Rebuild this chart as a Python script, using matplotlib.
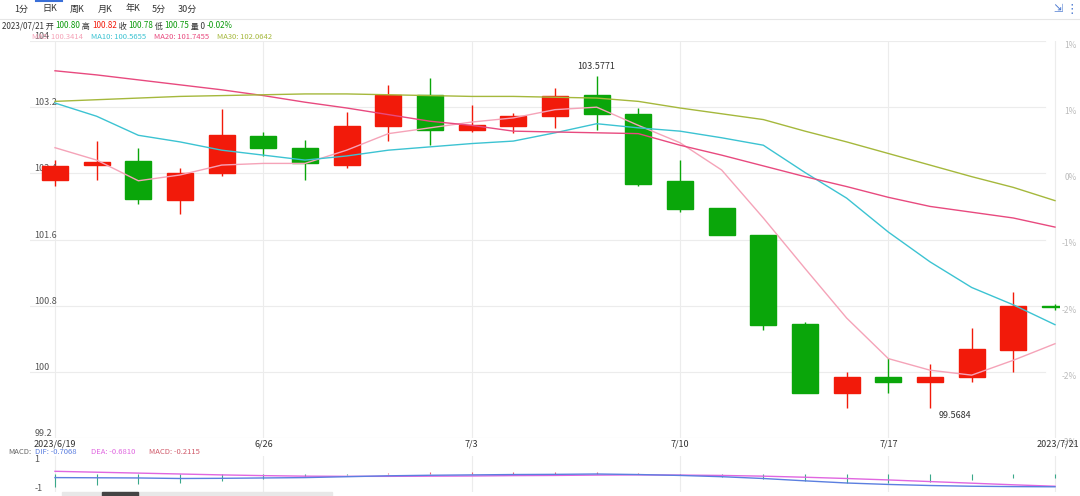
import numpy as np
import matplotlib
matplotlib.use("Agg")
import matplotlib.pyplot as plt
from matplotlib.patches import Rectangle

plt.rcParams['font.family'] = ['Noto Sans CJK SC', 'DejaVu Sans']

opens = [102.32, 102.50, 102.55, 102.08, 102.40, 102.85, 102.71, 102.50, 102.97, 103.35, 102.92, 102.97, 103.09,
         103.35, 103.12, 102.31, 101.98, 101.66, 100.58, 99.75, 99.94, 99.88, 99.94, 100.27, 100.80]
closes = [102.49, 102.54, 102.09, 102.40, 102.86, 102.71, 102.53, 102.97, 103.35, 102.92, 102.98, 103.09, 103.34,
          103.12, 102.27, 101.97, 101.66, 100.57, 99.75, 99.94, 99.88, 99.94, 100.28, 100.79, 100.78]
highs = [102.56, 102.79, 102.71, 102.47, 103.18, 102.90, 102.80, 103.14, 103.47, 103.55, 103.23, 103.13, 103.43,
         103.5771, 103.19, 102.56, 101.98, 101.66, 100.60, 100.00, 100.17, 100.10, 100.53, 100.97, 100.82]
lows = [102.25, 102.32, 102.03, 101.91, 102.37, 102.61, 102.32, 102.47, 102.79, 102.74, 102.90, 102.89, 102.95,
        102.92, 102.25, 101.93, 101.65, 100.51, 99.74, 99.56, 99.75, 99.5684, 99.88, 100.00, 100.75]
ma5 = [102.71, 102.56, 102.31, 102.38, 102.50, 102.52, 102.52, 102.68, 102.88, 102.95, 103.02, 103.07, 103.17,
       103.20, 102.98, 102.77, 102.44, 101.86, 101.25, 100.65, 100.16, 100.02, 99.96, 100.14, 100.34]
ma10 = [103.25, 103.09, 102.86, 102.78, 102.68, 102.62, 102.56, 102.61, 102.68, 102.72, 102.76, 102.79, 102.89,
        103.00, 102.95, 102.91, 102.83, 102.74, 102.41, 102.10, 101.69, 101.33, 101.02, 100.81, 100.57]
ma20 = [103.64, 103.59, 103.53, 103.47, 103.41, 103.34, 103.26, 103.19, 103.11, 103.03, 102.98, 102.91, 102.90,
        102.89, 102.88, 102.74, 102.62, 102.49, 102.36, 102.24, 102.11, 102.00, 101.93, 101.86, 101.75]
ma30 = [103.27, 103.29, 103.31, 103.33, 103.34, 103.35, 103.36, 103.36, 103.35, 103.34, 103.33, 103.33, 103.32,
        103.31, 103.27, 103.19, 103.12, 103.05, 102.91, 102.78, 102.64, 102.50, 102.36, 102.23, 102.07]
dif = [-0.20, -0.21, -0.22, -0.25, -0.24, -0.22, -0.20, -0.15, -0.10, -0.07, -0.05, -0.03, -0.02, 0.0, -0.03,
       -0.08, -0.15, -0.25, -0.38, -0.50, -0.58, -0.64, -0.68, -0.70, -0.71]
dea = [0.15, 0.10, 0.05, 0.0, -0.05, -0.09, -0.12, -0.13, -0.13, -0.12, -0.11, -0.09, -0.08, -0.06, -0.05,
       -0.06, -0.08, -0.12, -0.18, -0.25, -0.33, -0.42, -0.51, -0.60, -0.68]
macd = [-0.70, -0.62, -0.54, -0.50, -0.38, -0.26, -0.16, -0.04, 0.06, 0.10, 0.12, 0.12, 0.12, 0.12, 0.04,
        -0.04, -0.14, -0.26, -0.40, -0.50, -0.50, -0.44, -0.34, -0.20, -0.21]
date_ticks = {0: "2023/6/19", 5: "6/26", 10: "7/3", 15: "7/10", 20: "7/17", 24: "2023/7/21"}
price_ticks = [104, 103.2, 102.4, 101.6, 100.8, 100, 99.2]
pct_labels = ["1%", "1%", "0%", "-1%", "-2%", "-2%", "-3%"]

RED = "#f21a0a"
GREEN = "#0aa60a"
W, H = 1080, 496
fig = plt.figure(figsize=(W / 100, H / 100), dpi=100)

def px(l, t, r, b):
    return [l / W, 1 - b / H, (r - l) / W, (b - t) / H]

ax = fig.add_axes(px(30, 41, 1060, 438))
ax.set_xlim(-0.6, 24.12)
ax.set_ylim(99.2, 104)
for s in ax.spines.values():
    s.set_visible(False)
ax.set_xticks([])
ax.set_yticks([])
for v, p in zip(price_ticks, pct_labels):
    ax.axhline(v, xmin=-0.01, xmax=0.985, color="#ececec", lw=0.8, zorder=0)
    ax.text(-0.5, v, "%g" % v, fontsize=6.5, color="#555555", va="bottom", ha="left")
    fig.text(1077 / W, ax.transData.transform((0, v))[1] / H, p, fontsize=6, color="#bbbbbb",
             va="top", ha="right")
for i in date_ticks:
    ax.axvline(i, color="#ececec", lw=0.8, zorder=0)

x = np.arange(len(opens))
for i in x:
    o, c = opens[i], closes[i]
    col = RED if c >= o else GREEN
    ax.vlines(i, lows[i], highs[i], color=col, lw=1, zorder=2)
    ax.add_patch(Rectangle((i - 0.31, min(o, c)), 0.62, max(abs(c - o), 0.02),
                           color=col, zorder=3))
ax.plot(x, ma5, color="#f5a3b8", lw=1, zorder=4)
ax.plot(x, ma10, color="#3cc3d2", lw=1, zorder=4)
ax.plot(x, ma20, color="#e84a7f", lw=1, zorder=4)
ax.plot(x, ma30, color="#a5b83c", lw=1, zorder=4)
ax.text(13, 103.5771 + 0.06, "103.5771", fontsize=6.5, color="#333333", ha="center", va="bottom")
ax.text(21.2, 99.5684 - 0.04, "99.5684", fontsize=6.5, color="#333333", ha="left", va="top")

# date labels
for i, lab in date_ticks.items():
    ha = "right" if i == 24 else "center"
    xx = ax.transData.transform((i, 0))[0]
    if i == 24:
        xx = 1079
    fig.text(xx / W, 1 - 448 / H, lab, fontsize=6.5, color="#333333", ha=ha, va="bottom")

# MACD panel
ax2 = fig.add_axes(px(30, 456, 1060, 492))
ax2.set_xlim(-0.6, 24.12)
ax2.set_ylim(-1.0, 1.0)
for s in ax2.spines.values():
    s.set_visible(False)
ax2.set_xticks([])
ax2.set_yticks([])
for i in date_ticks:
    ax2.axvline(i, color="#ececec", lw=0.8, zorder=0)
for v in [1, -1]:
    ax2.text(-0.5, v * 0.8, str(v), fontsize=6.5, color="#555555", va="center", ha="left")
ax2.vlines(x, 0, macd, colors=["#e8627a" if m > 0 else "#3aa88a" for m in macd], lw=0.8)
ax2.plot(x, dea, color="#e066e0", lw=1)
ax2.plot(x, dif, color="#5b7fe0", lw=1)

# header
fig.add_artist(plt.Line2D([0, 1], [1 - 19 / H] * 2, color="#e6e6e6", lw=0.8))
for xx, t in zip([14, 42, 70, 98, 126, 152, 178], ["1分", "日K", "周K", "月K", "年K", "5分", "30分"]):
    fig.text(xx / W, 1 - 9 / H, t, fontsize=6.5, color="#333333", ha="left", va="center")
fig.add_artist(plt.Line2D([36 / W, 62 / W], [1 - 1 / H] * 2, color="#3a6fd8", lw=1.5))
hdr = [("2023/07/21 开 ", "#333333"), ("100.80", "#0a9a0a"), (" 高 ", "#333333"), ("100.82", RED),
       (" 收 ", "#333333"), ("100.78", "#0a9a0a"), (" 低 ", "#333333"), ("100.75", "#0a9a0a"),
       (" 量 0 ", "#333333"), ("-0.02%", "#0a9a0a")]
r = fig.canvas.get_renderer()
xpos = 2
for s, c in hdr:
    tt = fig.text(xpos / W, 1 - 26 / H, s, fontsize=5.8, color=c, va="center", ha="left")
    xpos += tt.get_window_extent(r).width
ma_lab = [("MA5: 100.3414", "#f5a3b8"), ("MA10: 100.5655", "#3cc3d2"),
          ("MA20: 101.7455", "#e84a7f"), ("MA30: 102.0642", "#a5b83c")]
xpos = 32
for s, c in ma_lab:
    tt = fig.text(xpos / W, 1 - 37 / H, s, fontsize=5.5, color=c, va="center", ha="left")
    xpos += tt.get_window_extent(r).width + 8
macd_lab = [("MACD:", "#666666"), ("DIF: -0.7068", "#5b7fe0"),
            ("DEA: -0.6810", "#e066e0"), ("MACD: -0.2115", "#d05a6a")]
xpos = 8
for s, c in macd_lab:
    tt = fig.text(xpos / W, 1 - 452 / H, s, fontsize=5.5, color=c, va="center", ha="left")
    xpos += tt.get_window_extent(r).width + (4 if s == "MACD:" else 14)
fig.text(1058 / W, 1 - 9 / H, "⇲", fontsize=8, color="#4a78d0", ha="center", va="center")
fig.text(1072 / W, 1 - 9 / H, "⋮", fontsize=9, color="#4a78d0", ha="center", va="center")

# scrollbar
fig.add_artist(Rectangle((62 / W, 0), 270 / W, 4 / H, color="#e8e8e8"))
fig.add_artist(Rectangle((102 / W, 0), 36 / W, 4 / H, color="#444444"))

fig.savefig("out.png", dpi=100)
